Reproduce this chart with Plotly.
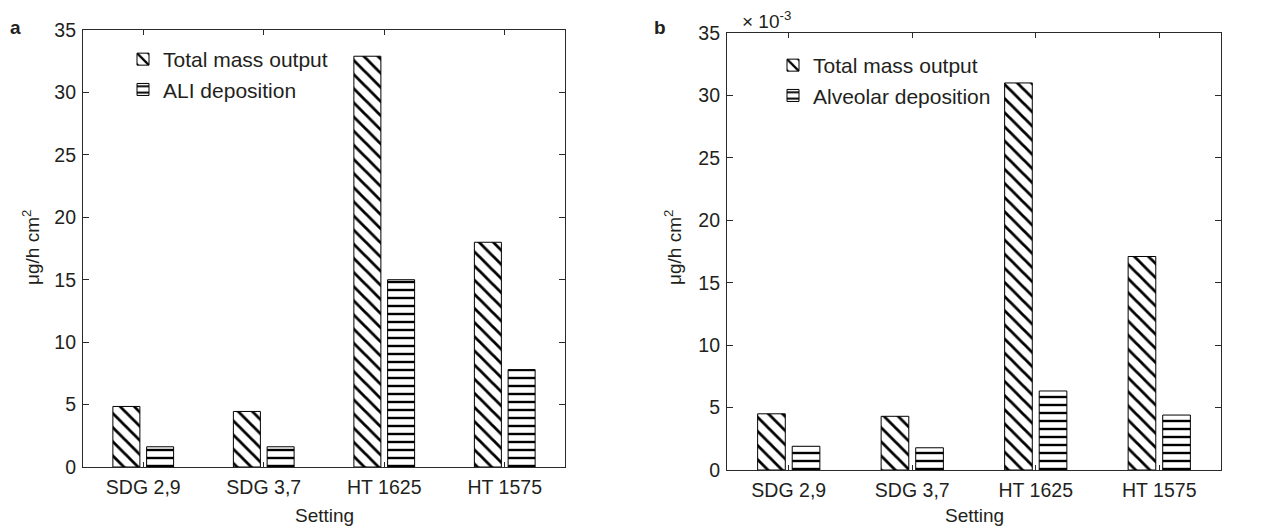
import plotly.graph_objects as go

W, H = 1288, 528
OFF = 8  # default page body margin

categories = ["SDG 2,9", "SDG 3,7", "HT 1625", "HT 1575"]
a_total_mass = [4.85, 4.45, 32.9, 18.0]
a_ali_dep = [1.62, 1.62, 15.0, 7.8]
b_total_mass = [4.5e-3, 4.3e-3, 31.0e-3, 17.1e-3]
b_alveolar_dep = [1.9e-3, 1.78e-3, 6.33e-3, 4.4e-3]
y_ticks = [0, 5, 10, 15, 20, 25, 30, 35]

FONT = "Liberation Sans, Arial, Helvetica, sans-serif"
TXT = "#231f20"
LINE = "#2a2a2a"


def px(x):
    return (x - OFF) / W


def py(y):
    return 1 - (y - OFF) / H


diag = dict(shape="\\", fgcolor="black", bgcolor="white", size=10, solidity=0.28, fillmode="replace")
horiz = dict(shape="-", fgcolor="black", bgcolor="white", size=8, solidity=0.3, fillmode="replace")

fig = go.Figure()

fig.add_trace(go.Bar(x=categories, y=a_total_mass, name="Total mass output",
                     marker=dict(color="white", line=dict(color="black", width=1), pattern=diag),
                     xaxis="x", yaxis="y", legend="legend"))
fig.add_trace(go.Bar(x=categories, y=a_ali_dep, name="ALI deposition",
                     marker=dict(color="white", line=dict(color="black", width=1), pattern=horiz),
                     xaxis="x", yaxis="y", legend="legend"))
fig.add_trace(go.Bar(x=categories, y=[v * 1e3 for v in b_total_mass], name="Total mass output",
                     marker=dict(color="white", line=dict(color="black", width=1), pattern=diag),
                     xaxis="x2", yaxis="y2", legend="legend2"))
fig.add_trace(go.Bar(x=categories, y=[v * 1e3 for v in b_alveolar_dep], name="Alveolar deposition",
                     marker=dict(color="white", line=dict(color="black", width=1), pattern=horiz),
                     xaxis="x2", yaxis="y2", legend="legend2"))

xcommon = dict(type="category", range=[-0.5, 3.5], showline=True, linecolor=LINE, linewidth=1.2,
               mirror="ticks", ticks="inside", ticklen=5, tickcolor=LINE, showgrid=False,
               zeroline=False, tickfont=dict(family=FONT, size=19.5, color=TXT), ticklabelstandoff=2,
               automargin=False)
ycommon = dict(range=[0, 35], tickvals=y_ticks, showline=True, linecolor=LINE, linewidth=1.2,
               mirror="ticks", ticks="inside", ticklen=6, tickcolor=LINE, showgrid=False,
               zeroline=False, tickfont=dict(family=FONT, size=19.5, color=TXT), ticklabelstandoff=2,
               automargin=False)

fig.update_layout(
    width=W, height=H,
    margin=dict(l=0, r=0, t=0, b=0, pad=0, autoexpand=False),
    paper_bgcolor="white", plot_bgcolor="white",
    barmode="group", bargap=0.44, bargroupgap=0.2,
    xaxis=dict(domain=[px(83), px(565)], anchor="y", **xcommon),
    yaxis=dict(domain=[py(467), py(30)], anchor="x", **ycommon),
    xaxis2=dict(domain=[px(727), px(1221)], anchor="y2", **xcommon),
    yaxis2=dict(domain=[py(470), py(33)], anchor="x2", **ycommon),
    legend=dict(x=px(123), y=py(39), xanchor="left", yanchor="top", bgcolor="rgba(0,0,0,0)",
                font=dict(family=FONT, size=21, color=TXT), traceorder="normal"),
    legend2=dict(x=px(773), y=py(45), xanchor="left", yanchor="top", bgcolor="rgba(0,0,0,0)",
                 font=dict(family=FONT, size=21, color=TXT), traceorder="normal"),
    showlegend=True,
)

annots = [
    dict(text="<b>a</b>", x=px(16), y=py(28), font=dict(size=19)),
    dict(text="<b>b</b>", x=px(660), y=py(28), font=dict(size=19)),
    dict(text="μg/h cm<sup>2</sup>", x=px(31), y=py(248), textangle=-90, font=dict(size=19)),
    dict(text="μg/h cm<sup>2</sup>", x=px(673), y=py(248), textangle=-90, font=dict(size=19)),
    dict(text="Setting", x=px(324), y=py(515), font=dict(size=19)),
    dict(text="Setting", x=px(974), y=py(515), font=dict(size=19)),
    dict(text="× 10<sup>-3</sup>", x=px(740), y=py(20), xanchor="left", font=dict(size=19)),
]
for a in annots:
    a.setdefault("xanchor", "center")
    a["font"].update(family=FONT, color=TXT)
    fig.add_annotation(xref="paper", yref="paper", yanchor="middle", showarrow=False, **a)

fig.write_html("out.html")
